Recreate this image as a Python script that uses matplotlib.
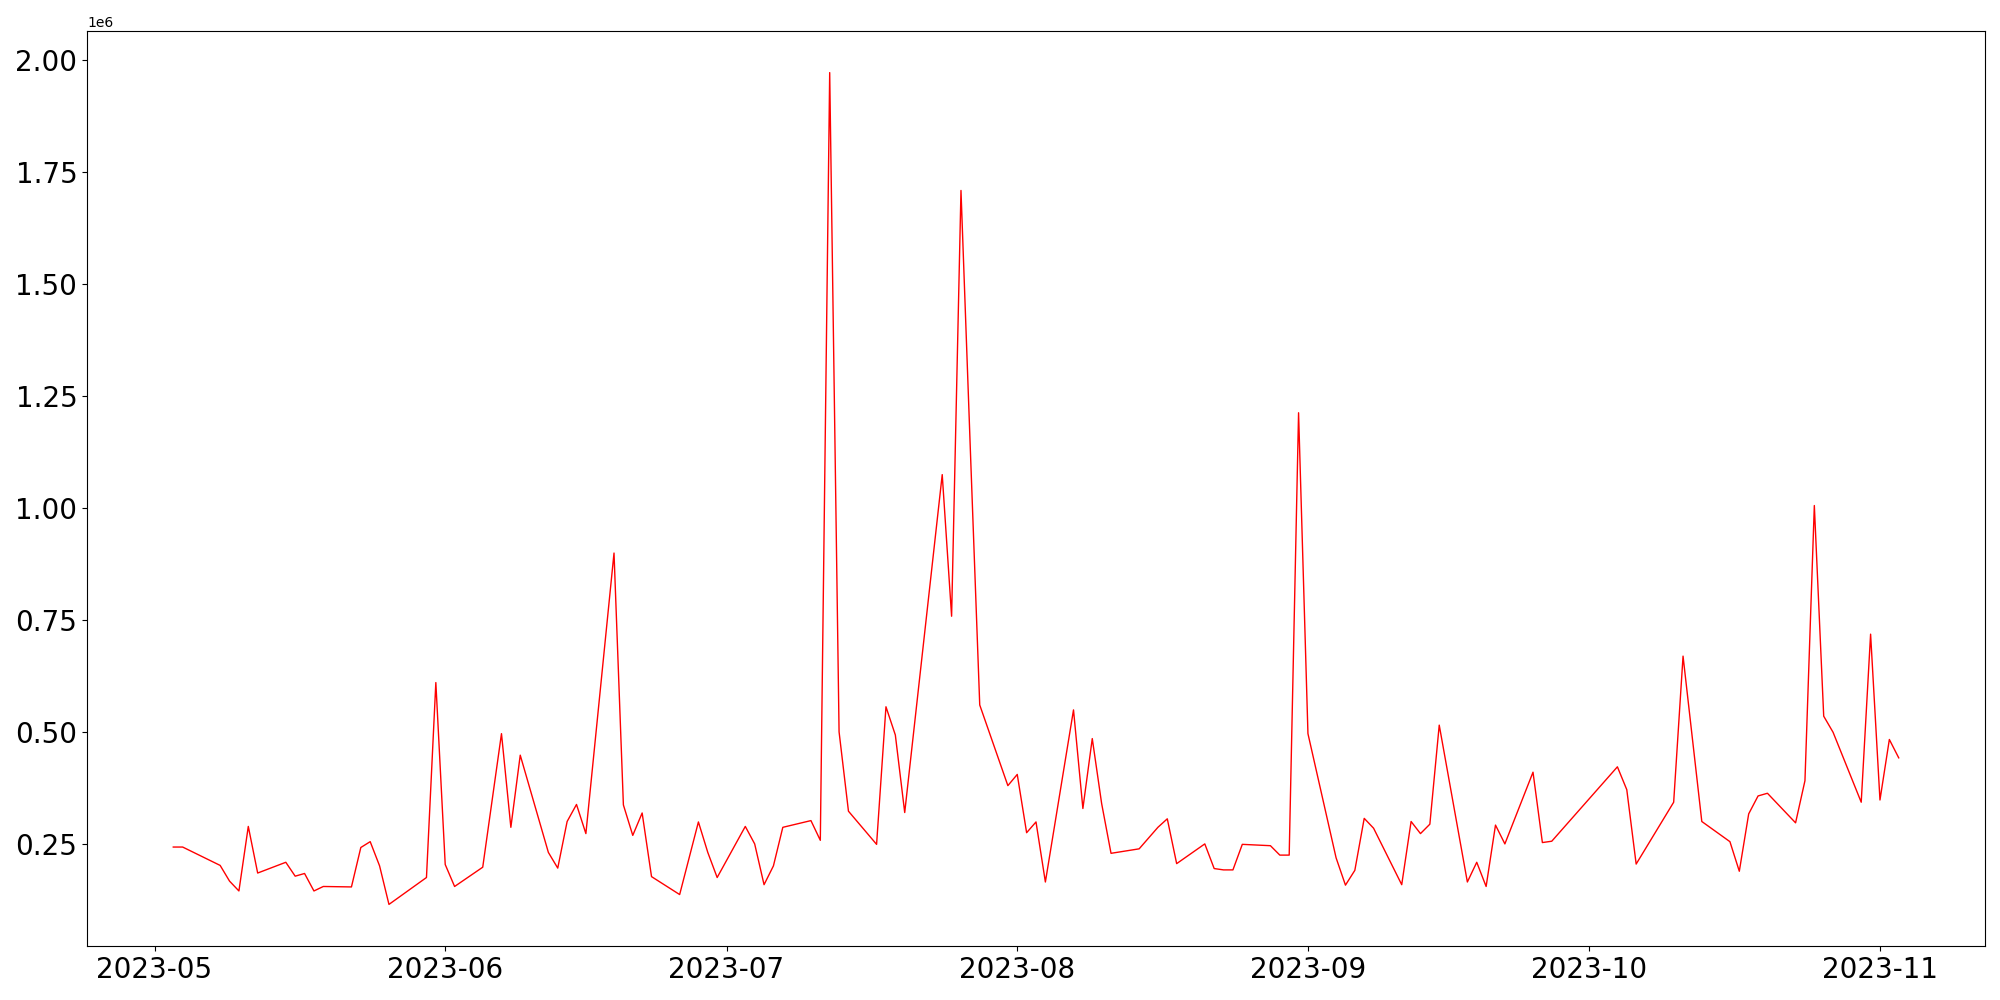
import pandas as pd
import matplotlib
matplotlib.use("Agg")
import matplotlib.pyplot as plt

# trading days (KRX, 2023) and daily volume
dates = [
    "2023-05-03", "2023-05-04", "2023-05-08", "2023-05-09", "2023-05-10", "2023-05-11", "2023-05-12",
    "2023-05-15", "2023-05-16", "2023-05-17", "2023-05-18", "2023-05-19",
    "2023-05-22", "2023-05-23", "2023-05-24", "2023-05-25", "2023-05-26",
    "2023-05-30", "2023-05-31", "2023-06-01", "2023-06-02",
    "2023-06-05", "2023-06-07", "2023-06-08", "2023-06-09",
    "2023-06-12", "2023-06-13", "2023-06-14", "2023-06-15", "2023-06-16",
    "2023-06-19", "2023-06-20", "2023-06-21", "2023-06-22", "2023-06-23",
    "2023-06-26", "2023-06-27", "2023-06-28", "2023-06-29", "2023-06-30",
    "2023-07-03", "2023-07-04", "2023-07-05", "2023-07-06", "2023-07-07",
    "2023-07-10", "2023-07-11", "2023-07-12", "2023-07-13", "2023-07-14",
    "2023-07-17", "2023-07-18", "2023-07-19", "2023-07-20",
    "2023-07-24", "2023-07-25", "2023-07-26", "2023-07-27", "2023-07-28",
    "2023-07-31", "2023-08-01", "2023-08-02", "2023-08-03", "2023-08-04",
    "2023-08-07", "2023-08-08", "2023-08-09", "2023-08-10", "2023-08-11",
    "2023-08-14", "2023-08-16", "2023-08-17", "2023-08-18",
    "2023-08-21", "2023-08-22", "2023-08-23", "2023-08-24", "2023-08-25",
    "2023-08-28", "2023-08-29", "2023-08-30", "2023-08-31", "2023-09-01",
    "2023-09-04", "2023-09-05", "2023-09-06", "2023-09-07", "2023-09-08",
    "2023-09-11", "2023-09-12", "2023-09-13", "2023-09-14", "2023-09-15",
    "2023-09-18", "2023-09-19", "2023-09-20", "2023-09-21", "2023-09-22",
    "2023-09-25", "2023-09-26", "2023-09-27",
    "2023-10-04", "2023-10-05", "2023-10-06",
    "2023-10-10", "2023-10-11", "2023-10-13",
    "2023-10-16", "2023-10-17", "2023-10-18", "2023-10-19", "2023-10-20",
    "2023-10-23", "2023-10-24", "2023-10-25", "2023-10-26", "2023-10-27",
    "2023-10-30", "2023-10-31", "2023-11-01", "2023-11-02", "2023-11-03",
]

volume = [
    244000, 244000, 203000, 168000, 146000, 290000, 186000,
    210000, 179000, 185000, 146000, 156000,
    155000, 243000, 256000, 202000, 116000,
    176000, 611000, 205000, 156000,
    199000, 497000, 288000, 449000,
    232000, 197000, 301000, 339000, 274000,
    900000, 338000, 270000, 320000, 178000,
    138000, 219000, 300000, 232000, 176000,
    290000, 251000, 160000, 202000, 288000,
    303000, 259000, 1972000, 501000, 324000,
    250000, 557000, 494000, 321000,
    1075000, 759000, 1709000, 1130000, 561000,
    381000, 406000, 276000, 300000, 166000,
    550000, 330000, 486000, 341000, 230000,
    240000, 288000, 307000, 207000,
    251000, 196000, 193000, 193000, 250000,
    247000, 226000, 226000, 1213000, 497000,
    220000, 159000, 192000, 308000, 286000,
    160000, 301000, 274000, 295000, 516000,
    166000, 210000, 156000, 293000, 251000,
    411000, 254000, 257000,
    423000, 372000, 206000,
    344000, 670000, 301000,
    256000, 190000, 318000, 358000, 364000,
    298000, 392000, 1006000, 536000, 500000,
    344000, 719000, 349000, 484000, 443000,
]

df = pd.DataFrame({"date": pd.to_datetime(dates), "volume": volume})

fig = plt.figure(figsize=(20, 10), dpi=100)
plt.plot(df["date"], df["volume"], color="red", linewidth=1)
plt.xticks(fontsize=20)
plt.yticks(fontsize=20)
plt.subplots_adjust(left=0.0435, right=0.9925, top=0.969, bottom=0.054)
plt.savefig("out.png")
